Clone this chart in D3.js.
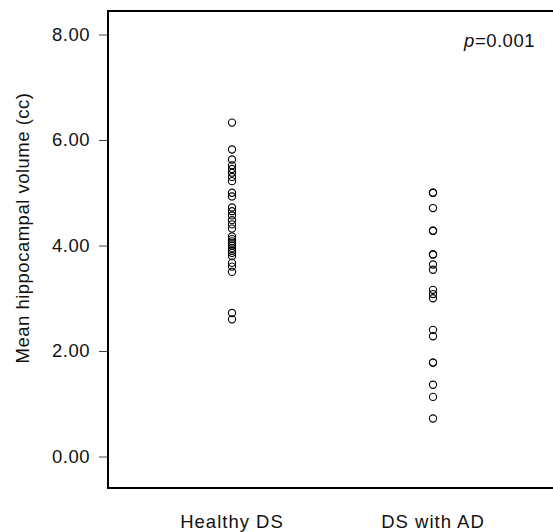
<!DOCTYPE html>
<html>
<head>
<meta charset="utf-8">
<script src="https://cdn.jsdelivr.net/npm/d3@7"></script>
<style>
  body { margin: 0; background: #fff; overflow: hidden; }
  svg { display: block; }
  text { font-family: "Liberation Sans", Arial, sans-serif; fill: #111; letter-spacing: 0.5px; }
</style>
</head>
<body>
<div id="chart"></div>
<script>
var groups = ["Healthy DS", "DS with AD"];

var healthyDS = [6.33, 5.82, 5.63, 5.52, 5.45, 5.38, 5.30, 5.22, 5.00, 4.93,
  4.72, 4.65, 4.57, 4.48, 4.40, 4.32, 4.17, 4.12, 4.08, 4.04,
  4.00, 3.95, 3.90, 3.86, 3.80, 3.67, 3.60, 3.50, 2.72, 2.60];

var dsWithAD = [5.00, 5.00, 4.71, 4.28, 4.28, 3.83, 3.83, 3.64, 3.54,
  3.16, 3.08, 3.00, 2.40, 2.28, 1.78, 1.78, 1.36, 1.13, 0.72];

var yTicks = [0, 2, 4, 6, 8];
var pLabel = "0.001";

var width = 553;
var height = 532;
var frameLeft = 108, frameTop = 11, frameBottom = 488, frameRight = 553;
var fontSize = "18.5px";

var svg = d3.select("#chart").append("svg")
  .attr("width", width)
  .attr("height", height);

/* Scales */
var yScale = d3.scaleLinear()
  .domain([0, 8])
  .range([456.5, 34.5]);

var xScale = d3.scalePoint()
  .domain(groups)
  .range([232, 433]);

/* Frame: top, left and bottom sides only, the right side is cut off */
svg.append("line")
  .attr("x1", frameLeft).attr("x2", frameRight)
  .attr("y1", frameTop).attr("y2", frameTop)
  .attr("stroke", "#000").attr("stroke-width", 2);
svg.append("line")
  .attr("x1", frameLeft).attr("x2", frameLeft)
  .attr("y1", frameTop - 1).attr("y2", frameBottom + 1)
  .attr("stroke", "#000").attr("stroke-width", 2);
svg.append("line")
  .attr("x1", frameLeft).attr("x2", frameRight)
  .attr("y1", frameBottom).attr("y2", frameBottom)
  .attr("stroke", "#000").attr("stroke-width", 2);

/* Y axis */
var yAxis = d3.axisLeft(yScale)
  .tickValues(yTicks)
  .tickSize(8)
  .tickPadding(9)
  .tickFormat(d3.format(".2f"));

var gy = svg.append("g")
  .attr("transform", `translate(${frameLeft - 1}, 0)`)
  .call(yAxis);
gy.select(".domain").remove();
gy.selectAll(".tick line").attr("stroke", "#444");
gy.selectAll(".tick text")
  .style("font-size", fontSize)
  .style("font-family", "Liberation Sans, Arial, sans-serif")
  .attr("fill", "#111");

svg.append("text")
  .attr("transform", "translate(29, 228) rotate(-90)")
  .attr("text-anchor", "middle")
  .style("font-size", fontSize)
  .text("Mean hippocampal volume (cc)");

/* X labels */
svg.selectAll(".xlabel")
  .data(groups).enter()
  .append("text")
  .attr("class", "xlabel")
  .attr("x", d => xScale(d))
  .attr("y", 528)
  .attr("text-anchor", "middle")
  .style("font-size", fontSize)
  .style("letter-spacing", "1px")
  .text(d => d);

/* Points */
var series = [healthyDS, dsWithAD];
series.forEach(function(vals, i) {
  svg.append("g")
    .selectAll("circle")
    .data(vals).enter()
    .append("circle")
    .attr("cx", xScale(groups[i]))
    .attr("cy", d => yScale(d))
    .attr("r", 3.6)
    .attr("fill", "none")
    .attr("stroke", "#000")
    .attr("stroke-width", 1.1);
});

/* p value */
var pt = svg.append("text")
  .attr("x", 535)
  .attr("y", 47)
  .attr("text-anchor", "end")
  .style("font-size", fontSize);
pt.append("tspan").style("font-style", "italic").text("p");
pt.append("tspan").text("=" + pLabel);
</script>
</body>
</html>
